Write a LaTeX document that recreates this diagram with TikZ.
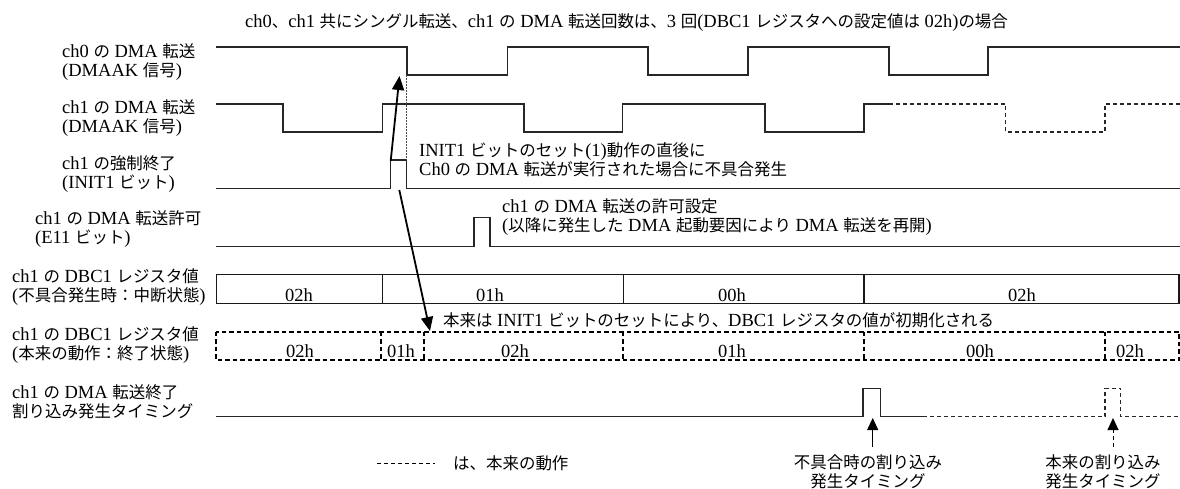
\documentclass[tikz,border=0pt]{standalone}
\usepackage{fontspec}
\setmainfont{Liberation Serif}
\newfontfamily\jp{Noto Sans CJK JP}[Scale=0.89]
\usetikzlibrary{arrows.meta}
\newcommand\J[1]{{\jp #1}}
\begin{document}
\begin{tikzpicture}[x=1pt,y=-1pt,
  sig/.style={line width=1.1pt, black!85},
  dsig/.style={sig, dash pattern=on 4pt off 3pt},
  reg/.style={line width=1.3pt, black!90},
  dreg/.style={line width=1.8pt, black, dash pattern=on 4.5pt off 3pt},
  lbl/.style={anchor=west, align=left, inner sep=0pt, font=\fontsize{18.5}{19}\selectfont},
  val/.style={anchor=base, inner sep=0pt, font=\fontsize{18.5}{19}\selectfont},
  bigarrow/.style={line width=1.8pt, -{Triangle[length=14pt,width=12pt]}},
  smallarrow/.style={line width=1pt, -{Triangle[length=12pt,width=11pt]}},
]
\useasboundingbox (0,0) rectangle (1180,489);

% title
\node[lbl] (title) at (245,23) {ch0\J{、}ch1 \J{共にシングル転送、}ch1 \J{の} DMA \J{転送回数は、}3 \J{回}(DBC1 \J{レジスタへの設定値は} 02h)\J{の場合}};

% left labels
\node[lbl] (l1) at (62,62.5) {ch0 \J{の} DMA \J{転送}\\(DMAAK \J{信号})};
\node[lbl] (l2) at (62,118.5) {ch1 \J{の} DMA \J{転送}\\(DMAAK \J{信号})};
\node[lbl] (l3) at (62,174) {ch1 \J{の強制終了}\\(INIT1 \J{ビット})};
\node[lbl] (l4) at (35,229) {ch1 \J{の} DMA \J{転送許可}\\(E11 \J{ビット})};
\node[lbl] (l5) at (12,287.5) {ch1 \J{の} DBC1 \J{レジスタ値}\\(\J{不具合発生時：中断状態})};
\node[lbl] (l6) at (12,345) {ch1 \J{の} DBC1 \J{レジスタ値}\\(\J{本来の動作：終了状態})};
\node[lbl] (l7) at (12,402) {ch1 \J{の} DMA \J{転送終了}\\\J{割り込み発生タイミング}};

% ch0 DMA
\draw[sig] (216,47) -- (407,47) -- (407,75) -- (507.5,75) -- (507.5,47) -- (648,47) -- (648,75) -- (748,75) -- (748,47) -- (889,47) -- (889,75) -- (988,75) -- (988,47) -- (1180,47);

% ch1 DMA
\draw[sig] (216,104) -- (283,104) -- (283,132) -- (382.5,132) -- (382.5,104) -- (524,104) -- (524,132) -- (622.7,132) -- (622.7,104) -- (765,104) -- (765,132) -- (864,132) -- (864,104) -- (889,104);
\draw[dsig] (889,104) -- (1005.7,104) -- (1005.7,132) -- (1105,132) -- (1105,104) -- (1180,104);

% INIT1
\draw[sig] (216,188.5) -- (390.7,188.5) -- (390.7,160) -- (406.7,160) -- (406.7,188.5) -- (1180,188.5);
\draw[densely dotted, line width=0.5pt, black!70] (406.7,75) -- (406.7,160);

% E11
\draw[sig] (216,246.7) -- (474,246.7) -- (474,217.7) -- (490,217.7) -- (490,246.7) -- (1180,246.7);

% annotations
\node[lbl] (a1) at (419,160) {INIT1 \J{ビットのセット}(1)\J{動作の直後に}\\Ch0 \J{の} DMA \J{転送が実行された場合に不具合発生}};
\node[lbl] (a2) at (502,216.7) {ch1 \J{の} DMA \J{転送の許可設定}\\(\J{以降に発生した} DMA \J{起動要因により} DMA \J{転送を再開})};
\node[lbl] (a3) at (443,320) {\J{本来は} INIT1 \J{ビットのセットにより、}DBC1 \J{レジスタの値が初期化される}};

% DBC1 fault
\draw[reg] (216.5,274.3) rectangle (1179,303.3);
\draw[reg] (382.3,274.3) -- (382.3,303.3) (623.3,274.3) -- (623.3,303.3) (864,274.3) -- (864,303.3);
\node[val] (f1) at (299,301.5) {02h};
\node[val] (f2) at (490,301.5) {01h};
\node[val] (f3) at (732,301.5) {00h};
\node[val] (f4) at (1022,301.5) {02h};

% DBC1 original
\draw[dreg] (216,331.7) rectangle (1179,360);
\draw[dreg] (381,331.7) -- (381,360) (424,331.7) -- (424,360) (622.7,331.7) -- (622.7,360) (864,331.7) -- (864,360) (1105,331.7) -- (1105,360);
\node[val] (o1) at (300,357) {02h};
\node[val] (o2) at (401,357) {01h};
\node[val] (o3) at (515,357) {02h};
\node[val] (o4) at (732,357) {01h};
\node[val] (o5) at (980,357) {00h};
\node[val] (o6) at (1130,357) {02h};

% interrupt
\draw[sig] (216,416.7) -- (863,416.7) -- (863,388.3) -- (880.7,388.3) -- (880.7,416.7) -- (923,416.7);
\draw[dsig] (923,416.7) -- (1105,416.7) -- (1105,388.3) -- (1120.7,388.3) -- (1120.7,416.7) -- (1180,416.7);

% big arrows
\coordinate (upA) at (390.7,161);
\coordinate (upB) at (399.5,76);
\coordinate (dnA) at (399.3,190);
\coordinate (dnB) at (430,331);
\draw[bigarrow] (upA) -- (upB);
\draw[bigarrow] (dnA) -- (dnB);

% bottom labels and arrows
\node[lbl, anchor=center, align=center] (b1) at (868,472) {\J{不具合時の割り込み}\\\J{発生タイミング}};
\node[lbl, anchor=center, align=center] (b2) at (1103,472) {\J{本来の割り込み}\\\J{発生タイミング}};
\coordinate (i1a) at (872.7,447);
\coordinate (i1b) at (872.7,418);
\coordinate (i2a) at (1113,447);
\coordinate (i2b) at (1113,418);
\draw[smallarrow] (i1a) -- (i1b);
\draw[smallarrow, dash pattern=on 4pt off 3pt] (i2a) -- (i2b);

% legend
\coordinate (lg1) at (377,463);
\coordinate (lg2) at (435,463);
\draw[line width=1pt, dash pattern=on 4pt off 3pt] (lg1) -- (lg2);
\node[lbl] (lgt) at (453,463) {\J{は、本来の動作}};
\end{tikzpicture}
\end{document}
